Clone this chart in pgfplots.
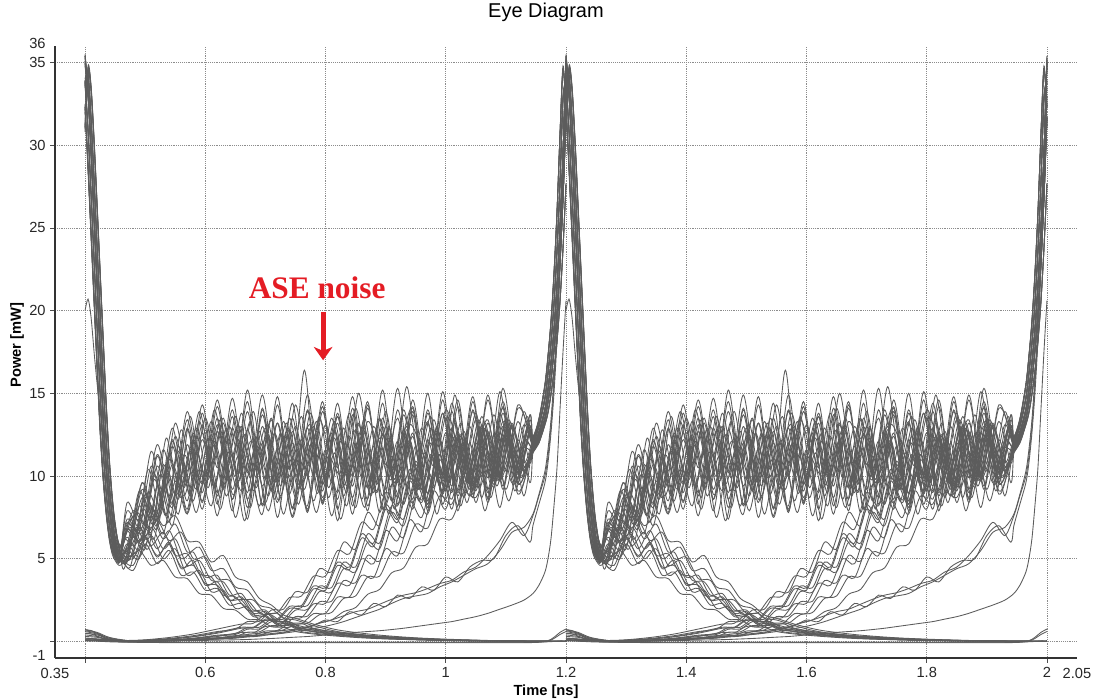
\documentclass[border=0pt]{standalone}
\usepackage{pgfplots}
\pgfplotsset{compat=1.18}
\usepackage{pgfplotstable}
\usepackage{fontspec}
\setmainfont{Liberation Sans}
\newfontfamily\timesfont{Liberation Serif}
\usetikzlibrary{arrows.meta}
\definecolor{trace}{RGB}{92,92,92}
\definecolor{asered}{RGB}{228,28,36}
\pgfplotsset{tr/.style={trace, line width=0.65pt, smooth, no markers}}

% high -> high traces (one bit slot, 0.4 .. 1.2 ns); four time grids for the noisy part
\pgfplotstableread{
xa xb xc xd h1 h2 h3 h4 h5 h6 h7 h8 h9 h10 h11 h12 h13 h14 h15 h16 h17 h18
0.400 0.400 0.400 0.400 32.3 33.8 35.0 33.8 31.0 35.3 33.6 34.0 34.8 32.0 31.2 35.4 33.9 33.6 35.1 30.8 32.5 35.5
0.405 0.405 0.405 0.405 28.7 30.9 33.0 34.2 34.6 33.2 30.7 34.4 32.8 28.4 34.8 33.3 31.0 34.0 33.1 34.4 28.9 33.4
0.410 0.410 0.410 0.410 24.7 27.1 29.5 31.6 33.4 29.7 26.9 31.8 29.3 24.4 33.6 29.8 27.2 31.4 29.6 33.2 24.9 29.9
0.415 0.415 0.415 0.415 20.7 23.1 25.5 27.9 30.2 25.7 22.9 28.1 25.3 20.4 30.4 25.8 23.2 27.7 25.6 30.0 20.9 25.9
0.420 0.420 0.420 0.420 16.7 19.1 21.5 23.9 26.3 21.7 18.9 24.1 21.3 16.4 26.5 21.8 19.2 23.7 21.6 26.1 16.9 21.9
0.425 0.425 0.425 0.425 12.9 15.1 17.5 19.9 22.3 17.7 14.9 20.1 17.3 12.6 22.5 17.8 15.2 19.7 17.6 22.1 13.1 17.9
0.430 0.430 0.430 0.430 10.0 11.7 13.5 15.9 18.3 13.7 11.5 16.1 13.3 9.8 18.5 13.8 11.8 15.7 13.6 18.1 10.2 13.9
0.435 0.435 0.435 0.435 7.9 9.1 10.5 12.3 14.4 10.7 9.0 12.5 10.3 7.7 14.6 10.8 9.2 12.1 10.6 14.2 8.1 10.9
0.440 0.440 0.440 0.440 6.4 7.2 8.2 9.6 11.1 8.4 7.1 9.8 8.0 6.2 11.3 8.5 7.3 9.5 8.3 10.9 6.6 8.6
0.445 0.445 0.445 0.445 5.5 6.0 6.6 7.6 8.7 6.8 5.9 7.8 6.4 5.3 8.9 6.9 6.1 7.5 6.7 8.5 5.7 7.0
0.450 0.450 0.450 0.450 5.1 5.3 5.6 6.2 7.0 5.8 5.2 6.4 5.4 4.9 7.2 5.9 5.4 6.1 5.7 6.8 5.3 6.0
0.458 0.458 0.458 0.458 4.9 4.9 5.0 5.3 5.6 5.2 4.8 5.5 4.8 4.6 5.8 5.3 5.0 5.2 5.1 5.4 5.1 5.3
0.470 0.475 0.480 0.465 7.1 4.9 7.4 4.5 7.9 5.4 6.8 5.1 5.6 5.3 6.9 5.8 6.3 6.0 6.2 4.4 8.4 5.0
0.490 0.495 0.500 0.485 6.8 8.2 6.1 7.7 7.2 8.9 6.5 7.8 5.0 9.1 6.0 9.6 5.6 8.7 5.9 6.9 7.4 8.0
0.510 0.515 0.520 0.505 10.6 6.6 9.8 6.2 11.2 7.3 10.4 6.9 8.0 7.5 10.1 7.4 9.4 7.8 9.0 5.6 11.5 7.1
0.530 0.535 0.540 0.525 8.4 10.7 7.6 10.2 8.8 11.4 8.1 10.1 6.5 11.6 7.7 12.3 7.2 11.0 7.6 9.3 9.0 10.4
0.550 0.555 0.560 0.545 12.4 8.1 11.5 7.7 12.8 8.7 12.1 8.4 9.7 8.9 11.8 8.9 11.1 9.3 10.7 7.0 13.2 8.6
0.570 0.575 0.580 0.565 9.6 11.9 8.8 11.5 10.0 12.6 9.3 11.3 7.7 12.9 8.9 13.6 8.5 12.2 8.8 10.5 10.3 11.6
0.590 0.595 0.600 0.585 13.3 8.9 12.2 8.5 13.5 9.4 12.9 9.2 10.4 9.8 12.6 9.6 12.0 10.1 11.5 7.8 13.9 9.5
0.610 0.615 0.620 0.605 10.1 12.5 9.3 11.9 10.5 13.1 9.8 11.8 8.2 13.3 9.4 14.0 9.0 12.7 9.3 11.0 10.8 12.1
0.630 0.635 0.640 0.625 13.5 9.2 12.4 8.8 13.0 9.9 13.4 8.7 11.6 9.4 12.9 10.7 11.5 9.6 12.8 8.0 13.2 9.8
0.650 0.655 0.660 0.645 9.5 12.7 10.1 11.2 10.6 13.0 9.2 12.9 7.5 13.6 9.7 13.1 9.1 13.8 8.6 11.3 10.0 12.2
0.670 0.675 0.680 0.665 12.8 8.6 13.3 8.1 13.9 9.1 12.5 9.5 10.8 10.2 12.1 9.9 12.3 10.4 11.8 7.3 15.2 9.1
0.690 0.695 0.700 0.685 10.2 11.8 9.4 12.0 9.8 12.3 9.9 11.9 8.2 12.7 10.8 14.0 8.4 12.9 9.3 10.5 10.7 13.0
0.710 0.715 0.720 0.705 13.4 9.1 12.6 8.6 13.2 9.6 13.1 8.8 11.4 9.5 9.0 10.5 11.7 9.8 12.5 7.9 13.5 9.6
0.730 0.735 0.740 0.725 9.7 12.4 9.9 11.5 10.4 12.8 9.4 12.6 7.7 13.3 12.7 13.2 8.9 13.5 8.8 11.0 10.1 12.4
0.750 0.755 0.760 0.745 13.0 8.7 11.3 8.3 13.6 9.2 12.7 9.4 11.0 10.0 9.5 10.1 12.2 10.3 12.0 7.5 14.3 9.2
0.770 0.775 0.780 0.765 10.0 12.0 13.1 11.9 10.0 12.5 9.8 16.4 8.0 12.9 12.3 13.8 8.5 13.0 9.2 10.6 10.6 12.9
0.790 0.795 0.800 0.785 13.6 9.0 9.5 8.7 13.1 9.8 13.3 9.0 11.5 9.6 9.1 10.6 11.6 9.7 12.7 7.8 13.4 9.5
0.810 0.815 0.820 0.805 9.6 12.6 12.7 11.4 10.5 13.2 9.3 12.2 7.6 13.5 12.8 13.3 9.0 13.6 8.7 11.2 11.0 12.3
0.830 0.835 0.840 0.825 12.9 8.8 10.0 8.2 13.8 9.3 12.6 9.3 10.9 10.1 9.4 10.2 12.4 10.2 12.1 7.4 10.1 9.0
0.850 0.855 0.860 0.845 10.3 11.9 13.2 12.1 9.9 12.4 10.0 10.7 8.1 12.8 12.2 15.0 8.6 12.8 9.4 10.7 14.1 13.1
0.870 0.875 0.880 0.865 13.3 9.3 9.3 8.8 13.0 9.0 13.5 12.6 11.7 9.3 8.9 10.8 11.8 9.5 12.9 8.1 10.7 9.7
0.890 0.895 0.900 0.885 11.5 12.3 12.5 11.7 10.7 13.0 9.5 9.1 7.8 13.4 12.6 13.0 9.2 13.9 9.0 11.1 13.5 12.5
0.910 0.915 0.920 0.905 9.8 8.5 9.8 8.0 13.5 9.6 12.9 13.0 11.2 9.9 9.6 10.4 12.1 10.1 12.3 7.7 10.2 9.3
0.930 0.935 0.940 0.925 13.7 12.8 13.0 12.2 10.1 12.2 9.9 9.5 8.3 12.6 12.0 15.4 8.8 13.1 9.5 10.4 14.0 12.8
0.950 0.955 0.960 0.945 10.4 9.0 9.2 8.5 12.9 9.2 13.7 12.4 11.8 9.5 9.2 10.9 11.4 11.6 12.6 8.0 10.6 9.8
0.970 0.975 0.980 0.965 13.2 12.2 12.4 11.3 10.6 13.4 9.2 8.9 7.9 13.8 12.9 13.6 9.3 9.9 8.9 11.4 13.3 12.0
0.990 0.995 1.000 0.985 9.5 9.4 10.1 8.9 14.0 9.9 12.7 12.9 11.3 10.2 9.7 10.0 12.6 13.5 13.0 7.7 9.9 9.1
1.010 1.015 1.020 1.005 13.9 12.5 13.4 12.0 11.8 12.7 9.7 9.6 8.0 12.9 12.4 14.9 9.0 10.5 9.6 10.9 14.4 13.2
1.030 1.035 1.040 1.025 10.1 8.7 9.6 8.4 10.3 9.5 13.2 12.5 11.9 9.7 9.0 10.6 12.0 13.0 12.4 8.2 10.5 9.6
1.050 1.055 1.060 1.045 13.4 12.0 12.8 11.6 13.6 13.1 9.4 9.2 8.4 11.4 13.0 13.4 8.7 10.0 9.1 11.5 13.8 12.7
1.070 1.075 1.080 1.065 9.9 9.2 9.9 8.7 10.8 9.7 12.8 13.2 11.5 13.4 9.5 10.9 12.5 13.7 12.9 7.9 10.2 9.9
1.090 1.095 1.100 1.085 13.8 12.6 13.3 12.3 13.2 12.5 10.1 9.8 8.1 9.9 12.5 14.1 9.2 10.3 9.4 11.0 15.1 13.0
1.110 1.115 1.120 1.105 10.5 9.6 10.4 9.1 10.2 10.1 13.4 12.8 12.0 13.0 9.9 10.5 12.2 13.3 12.6 8.5 10.9 9.5
1.130 1.135 1.140 1.125 13.1 12.2 12.9 11.9 13.7 12.9 10.4 10.0 8.8 10.3 12.9 13.6 9.6 10.8 9.9 11.6 13.9 12.6
1.145 1.145 1.145 1.145 11.8 11.6 12.0 11.5 11.9 12.3 11.7 11.8 12.1 11.6 12.4 11.7 11.4 12.0 11.9 11.5 11.8 12.2
1.155 1.155 1.155 1.155 12.6 12.3 13.0 12.1 12.7 13.4 12.4 12.6 13.1 12.3 13.5 12.5 12.0 13.0 12.7 12.2 12.6 13.3
1.165 1.165 1.165 1.165 14.0 13.5 14.7 13.2 14.1 15.5 13.6 14.0 14.8 13.5 15.6 13.9 13.1 14.7 14.1 13.4 14.0 15.4
1.170 1.170 1.170 1.170 15.2 14.5 16.2 13.9 15.3 17.2 14.6 15.2 16.3 14.5 17.3 15.1 13.8 16.2 15.3 14.4 15.2 17.1
1.175 1.175 1.175 1.175 16.8 15.8 18.0 15.0 16.9 19.3 15.9 16.8 18.1 15.8 19.4 16.7 14.9 18.0 16.9 15.7 16.8 19.2
1.180 1.180 1.180 1.180 18.8 17.6 20.4 16.4 18.9 22.2 17.7 18.8 20.5 17.6 22.3 18.7 16.3 20.4 18.9 17.5 18.8 22.1
1.185 1.185 1.185 1.185 21.5 19.9 23.6 18.2 21.6 25.9 20.0 21.5 23.7 19.9 26.0 21.4 18.1 23.6 21.6 19.8 21.5 25.8
1.190 1.190 1.190 1.190 25.0 22.9 27.7 20.6 25.1 30.6 23.0 25.0 27.8 22.9 30.7 24.9 20.5 27.7 25.1 22.8 25.0 30.5
1.195 1.195 1.195 1.195 29.5 26.8 32.8 23.8 29.6 34.6 26.9 29.5 32.9 26.8 34.8 29.4 23.7 32.8 29.6 26.7 29.5 34.5
1.200 1.200 1.200 1.200 35.0 31.7 33.8 27.7 35.2 32.3 31.8 35.3 33.9 31.6 32.4 34.8 27.6 33.7 35.1 31.5 35.4 32.2
}\tblH

% high -> high traces with larger, slower excursions
\pgfplotstableread{
x g1 g2 g3 g4 g5 g6
0.400 35.0 33.8 33.8 31.0 35.4 32.3
0.405 33.0 34.2 30.9 34.6 33.3 28.7
0.410 29.5 31.6 27.1 33.4 29.8 24.7
0.415 25.5 27.9 23.1 30.2 25.7 20.7
0.420 21.5 23.9 19.1 26.3 21.7 16.7
0.425 17.5 19.9 15.1 22.3 17.6 12.9
0.430 13.5 15.9 11.7 18.3 13.6 10.0
0.435 10.5 12.3 9.1 14.4 10.6 7.9
0.440 8.2 9.6 7.2 11.1 8.3 6.4
0.445 6.6 7.6 6.0 8.7 6.7 5.5
0.450 5.6 6.2 5.3 7.0 5.7 5.1
0.458 5.0 5.3 4.9 5.6 5.1 4.9
0.470 7.4 5.0 6.8 4.8 7.9 5.3
0.495 6.6 9.2 6.2 8.7 6.9 9.6
0.520 11.3 7.0 10.6 6.8 11.9 7.4
0.545 8.1 12.2 7.6 11.8 8.3 12.9
0.570 13.4 8.0 12.8 7.8 13.9 8.5
0.595 8.4 13.8 8.0 13.1 9.0 14.3
0.620 14.2 8.3 13.5 7.6 14.6 8.8
0.645 8.6 14.0 7.9 13.6 8.9 14.7
0.670 14.5 8.1 13.9 7.4 11.2 9.0
0.695 8.3 13.7 8.2 14.1 7.7 14.9
0.720 14.8 8.4 13.2 7.5 14.3 8.6
0.745 8.0 14.4 7.6 13.5 8.1 11.1
0.770 13.9 7.9 14.0 7.8 14.9 8.2
0.795 8.5 13.9 8.3 14.2 8.4 14.5
0.820 14.4 8.6 13.6 7.3 13.8 8.0
0.845 8.2 14.8 7.7 13.7 8.7 14.1
0.870 14.1 8.2 14.3 7.9 14.5 8.6
0.895 8.8 13.5 8.1 14.4 8.0 15.2
0.920 15.3 8.7 11.0 7.6 14.0 8.3
0.945 8.4 14.2 14.1 13.9 8.6 14.6
0.970 14.0 8.3 8.5 8.1 15.0 8.9
0.995 9.0 15.1 13.8 14.6 8.3 13.8
1.020 14.6 8.8 8.2 7.9 14.2 9.1
1.045 8.7 13.9 14.5 14.0 8.9 14.8
1.070 14.9 9.0 8.6 8.4 14.6 8.7
1.095 9.2 14.5 14.2 13.8 9.4 15.3
1.120 14.3 9.5 9.1 8.9 14.1 9.6
1.145 11.8 12.0 11.6 11.8 12.3 11.6
1.155 12.6 13.0 12.3 12.6 13.4 12.3
1.165 14.0 14.7 13.5 14.0 15.5 13.5
1.170 15.2 16.2 14.5 15.2 17.2 14.5
1.175 16.8 18.0 15.8 16.8 19.3 15.8
1.180 18.8 20.4 17.6 18.8 22.2 17.6
1.185 21.5 23.6 19.9 21.5 25.9 19.9
1.190 25.0 27.7 22.9 25.0 30.6 22.9
1.195 29.5 32.8 26.8 29.5 34.6 26.8
1.200 35.0 33.8 31.7 35.0 32.3 31.7
}\tblHg

% high -> low traces
\pgfplotstableread{
xa xb u1 u2 u3 u4 u5 u6 u7 u8 u9 u10 u11
0.400 0.400 32.2 35.1 33.7 33.9 31.1 35.4 33.7 20.0 34.9 33.9 32.4
0.405 0.405 28.6 33.1 34.3 31.0 34.7 33.3 30.8 20.7 32.9 34.1 28.8
0.410 0.410 24.6 29.6 31.7 27.2 33.5 29.8 27.0 19.6 29.4 31.5 24.8
0.415 0.415 20.6 25.6 28.0 23.2 30.3 25.8 23.0 17.5 25.4 27.8 20.8
0.420 0.420 16.6 21.6 24.0 19.2 26.4 21.8 19.0 15.6 21.4 23.8 16.8
0.425 0.425 12.8 17.6 20.0 15.2 22.4 17.8 15.0 14.0 17.4 19.8 13.0
0.430 0.430 9.9 13.6 16.0 11.8 18.4 13.8 11.6 12.3 13.4 15.8 10.1
0.435 0.435 7.8 10.6 12.4 9.2 14.5 10.8 9.0 10.6 10.4 12.2 8.0
0.440 0.440 6.3 8.3 9.7 7.3 11.2 8.4 7.1 9.0 8.1 9.5 6.5
0.445 0.445 5.4 6.7 7.7 6.1 8.8 6.8 5.9 7.8 6.5 7.5 5.6
0.450 0.450 5.0 5.7 6.3 5.4 7.1 5.8 5.2 6.8 5.5 6.1 5.2
0.458 0.458 4.8 5.1 5.4 5.0 5.7 5.4 4.9 5.8 5.0 5.3 4.9
0.470 0.480 6.8 4.6 6.3 4.3 7.2 5.0 5.9 5.1 5.6 7.6 4.9
0.490 0.500 6.0 6.3 5.5 5.9 6.6 6.8 5.1 6.2 6.9 6.4 5.5
0.510 0.520 7.6 5.1 6.9 4.7 8.1 5.6 6.4 5.2 5.8 7.3 4.6
0.530 0.540 6.2 6.0 5.6 5.5 7.0 6.7 5.0 5.9 6.6 6.1 4.9
0.550 0.560 7.1 4.4 6.2 4.0 7.6 5.0 5.6 4.5 5.2 6.6 3.9
0.570 0.580 5.4 4.9 4.6 4.2 6.1 5.4 4.0 4.6 5.3 5.0 3.8
0.590 0.600 5.7 3.4 4.9 3.1 6.0 3.9 4.3 3.5 4.1 5.1 2.9
0.610 0.620 4.3 3.6 3.7 3.2 4.8 4.0 3.0 3.4 3.9 3.8 2.8
0.630 0.640 4.4 2.5 3.6 2.2 5.2 2.8 3.1 2.5 2.8 3.7 2.0
0.650 0.660 3.3 2.7 2.6 2.3 3.9 2.9 2.0 2.5 2.7 2.6 1.9
0.670 0.680 3.1 1.7 2.5 1.5 3.6 1.9 2.1 1.6 1.9 2.5 1.35
0.690 0.700 2.2 1.8 1.7 1.5 2.6 1.9 1.3 1.6 1.8 1.7 1.3
0.710 0.720 2.0 1.1 1.6 1.0 2.2 1.2 1.3 1.0 1.25 1.7 0.9
0.730 0.740 1.4 1.1 1.1 0.95 1.6 1.2 0.85 1.0 1.2 1.15 0.85
0.750 0.760 1.3 0.7 1.0 0.6 1.4 0.8 0.9 0.7 0.85 1.1 0.6
0.780 0.780 0.95 0.62 0.75 0.5 1.05 0.68 0.58 0.6 0.7 0.8 0.45
0.820 0.820 0.6 0.42 0.55 0.36 0.7 0.45 0.4 0.44 0.5 0.55 0.32
0.860 0.860 0.42 0.3 0.38 0.25 0.5 0.33 0.28 0.3 0.36 0.4 0.22
0.900 0.900 0.3 0.2 0.27 0.17 0.35 0.22 0.2 0.21 0.25 0.28 0.15
0.950 0.950 0.2 0.12 0.17 0.1 0.22 0.14 0.12 0.13 0.16 0.18 0.1
1.000 1.000 0.12 0.07 0.1 0.06 0.14 0.08 0.07 0.08 0.1 0.11 0.06
1.060 1.060 0.06 0.04 0.05 0.03 0.07 0.04 0.04 0.04 0.05 0.06 0.03
1.120 1.120 0.03 0.02 0.02 0.02 0.03 0.02 0.02 0.02 0.03 0.03 0.02
1.160 1.160 0.02 0.01 0.01 0.01 0.02 0.01 0.01 0.01 0.02 0.02 0.01
1.200 1.200 0 0 0 0 0 0 0 0 0 0 0
}\tblHL

% low -> high traces
\pgfplotstableread{
xa xb v1 v2 v3 v4 v5 v6 v7 v8 v9 v10 v11 v12 v13 v14 v15
0.400 0.400 0.3 0.65 0.2 0.7 0.1 0.5 0.2 0.6 0.1 0.05 0.4 0.05 0.1 0.15 0.05
0.420 0.420 0.25 0.5 0.15 0.55 0.08 0.4 0.15 0.45 0.08 0.04 0.3 0.04 0.08 0.12 0.04
0.440 0.440 0.1 0.2 0.08 0.25 0.05 0.15 0.08 0.2 0.04 0.03 0.12 0.03 0.04 0.08 0.03
0.470 0.470 0.05 0.05 0.03 0.06 0.02 0.04 0.03 0.05 0.02 0.02 0.03 0.02 0.02 0.06 0.02
0.500 0.500 0.08 0.06 0.04 0.03 0.02 0.07 0.04 0.02 0.02 0.03 0.02 0.02 0.02 0.1 0.02
0.540 0.540 0.18 0.14 0.1 0.07 0.05 0.15 0.09 0.04 0.05 0.06 0.04 0.03 0.04 0.24 0.04
0.580 0.580 0.35 0.28 0.2 0.16 0.12 0.3 0.18 0.1 0.12 0.12 0.09 0.05 0.08 0.45 0.09
0.620 0.620 0.6 0.5 0.38 0.3 0.22 0.55 0.34 0.2 0.22 0.2 0.16 0.08 0.14 0.75 0.16
0.650 0.660 0.75 0.8 0.48 0.55 0.3 0.86 0.42 0.38 0.35 0.3 0.25 0.1 0.2 1.05 0.22
0.670 0.680 1.2 0.82 0.85 0.52 0.56 0.86 0.74 0.36 0.42 0.36 0.3 0.12 0.27 1.1 0.34
0.690 0.700 1.22 1.27 0.86 0.91 0.58 1.35 0.76 0.63 0.5 0.44 0.36 0.15 0.32 1.65 0.38
0.710 0.720 1.9 1.28 1.35 0.9 0.96 1.36 1.2 0.67 0.58 0.52 0.42 0.18 0.44 1.75 0.6
0.730 0.740 1.95 2.0 1.35 1.43 0.96 2.12 1.22 1.06 0.66 0.62 0.5 0.22 0.52 2.65 0.7
0.750 0.760 3.0 2.05 2.12 1.44 1.5 2.17 1.9 1.08 0.75 0.75 0.6 0.26 0.74 2.75 1.03
0.770 0.780 2.98 3.18 2.17 2.27 1.53 3.35 1.94 1.68 0.9 0.95 0.72 0.3 0.86 3.95 1.1
0.790 0.800 4.4 3.1 3.35 2.3 2.4 3.25 3.02 1.71 1.1 1.3 0.85 0.36 1.13 3.95 1.62
0.810 0.820 4.2 4.6 3.25 3.52 2.43 4.8 2.98 2.68 1.3 1.2 1.0 0.42 1.3 5.5 1.75
0.830 0.840 6.0 4.35 4.8 3.4 3.68 4.5 4.4 2.7 1.55 1.8 1.2 0.48 1.8 5.3 2.6
0.850 0.860 5.6 6.25 4.5 5.0 3.55 6.5 4.2 4.0 1.8 1.6 1.45 0.55 2.05 7.2 2.75
0.870 0.880 7.8 5.75 6.5 4.7 5.2 5.95 6.0 3.85 1.95 2.3 1.7 0.6 2.85 6.8 3.9
0.890 0.900 7.0 8.0 5.95 6.7 4.85 8.25 5.6 5.6 2.25 2.1 1.95 0.65 3.15 9.0 3.95
0.910 0.920 9.5 7.2 8.2 6.1 6.9 7.4 7.8 5.2 2.55 2.8 2.3 0.72 4.15 8.2 5.4
0.930 0.940 8.3 9.7 7.4 8.45 6.3 9.9 7.0 7.35 2.8 2.6 2.6 0.8 4.45 10.4 5.35
0.950 0.960 10.9 8.4 9.9 7.5 8.7 8.55 9.5 6.65 2.95 3.3 2.75 0.9 5.7 9.2 7.1
0.970 0.980 9.0 11.1 8.5 10.1 7.7 11.3 8.3 9.1 3.2 3.1 2.9 1.0 5.9 11.6 6.85
0.990 1.000 12.2 9.1 11.3 8.6 10.3 9.2 11.0 8.0 3.5 3.9 3.3 1.1 7.4 9.8 8.8
1.010 1.020 9.4 12.2 9.1 11.4 8.6 12.3 9.0 10.6 3.7 3.6 3.6 1.2 7.4 12.4 8.3
1.030 1.040 12.7 9.5 12.2 9.2 11.6 9.5 12.0 8.8 4.2 4.5 4.0 1.35 9.0 9.9 10.2
1.050 1.060 9.8 12.9 9.6 12.3 9.1 13.0 9.4 11.6 4.5 4.9 4.4 1.5 8.7 12.8 9.3
1.070 1.080 13.2 9.9 12.6 9.5 12.4 10.0 12.7 9.3 5.2 5.0 4.7 1.7 10.4 10.1 11.2
1.090 1.100 10.2 13.5 10.1 12.8 9.7 12.6 10.0 12.3 6.1 6.4 5.5 1.95 9.7 13.1 9.9
1.110 1.120 13.0 10.5 13.1 9.9 13.2 10.4 12.9 9.6 7.2 7.0 6.6 2.2 11.3 9.8 11.8
1.130 1.140 10.8 13.4 10.6 13.0 10.2 13.7 10.5 12.8 6.4 6.0 6.9 2.5 10.3 12.7 10.4
1.145 1.145 12.3 11.8 11.6 12.0 11.5 11.9 12.1 11.6 7.6 7.0 7.7 2.9 11.7 12.0 11.4
1.155 1.155 13.4 12.6 12.3 13.0 12.1 12.7 13.1 12.2 8.8 8.3 8.9 3.4 12.5 13.0 12.0
1.165 1.165 15.5 14.0 13.5 14.7 13.2 14.1 14.8 13.4 10.0 9.6 10.3 4.2 13.9 14.6 13.1
1.170 1.170 17.2 15.2 14.5 16.2 13.9 15.3 16.3 14.4 11.2 10.8 11.6 5.0 15.1 16.1 13.8
1.175 1.175 19.3 16.8 15.8 18.0 15.0 16.9 18.1 15.7 13.0 12.6 13.4 6.2 16.7 17.9 14.9
1.180 1.180 22.2 18.8 17.6 20.4 16.4 18.9 20.5 17.5 15.5 15.0 16.0 8.2 18.7 20.3 16.3
1.185 1.185 25.9 21.5 19.9 23.6 18.2 21.6 23.7 19.8 18.8 18.2 19.4 10.5 21.4 23.5 18.1
1.190 1.190 30.6 25.0 22.9 27.7 20.6 25.1 27.8 22.8 23.0 22.4 23.6 14.0 24.9 27.6 20.5
1.195 1.195 34.6 29.5 26.8 32.8 23.8 29.6 32.9 26.7 28.0 27.3 28.6 17.5 29.4 32.7 23.7
1.200 1.200 32.3 35.0 31.7 33.8 27.7 35.1 33.9 31.6 33.5 33.0 34.0 20.6 34.8 33.7 27.6
}\tblLH

% low -> low traces
\pgfplotstableread{
x w1 w2 w3
0.40 0.72 0.5 0.05
0.41 0.66 0.45 0.04
0.42 0.5 0.33 0.02
0.43 0.28 0.18 0.0
0.44 0.1 0.05 -0.02
0.46 0.0 -0.02 -0.04
0.50 -0.03 -0.06 -0.05
0.60 -0.05 -0.08 -0.05
0.70 -0.05 -0.08 -0.05
0.80 -0.05 -0.08 -0.05
0.90 -0.05 -0.08 -0.05
1.00 -0.05 -0.08 -0.05
1.10 -0.05 -0.08 -0.05
1.15 -0.03 -0.06 -0.04
1.17 0.05 0.02 -0.02
1.18 0.25 0.18 0.0
1.19 0.55 0.42 0.03
1.20 0.75 0.6 0.05
}\tblLL

\newcommand\twoslots[3]{% table, x column, y column
  \addplot[tr] table[x=#2, y=#3] {#1};
  \addplot[tr] table[x expr=\thisrow{#2}+0.8, y=#3] {#1};
}

\begin{document}
\begin{tikzpicture}
\begin{axis}[
  at={(41.25pt,31.5pt)}, anchor=south west,
  scale only axis, width=766.5pt, height=459pt,
  xmin=0.35, xmax=2.05, ymin=-1, ymax=36,
  axis x line=bottom, axis y line=left,
  axis line style={-, black!80, line width=0.8pt},
  xtick={0.4,0.6,0.8,1,1.2,1.4,1.6,1.8,2},
  xticklabels={{},0.6,0.8,1,1.2,1.4,1.6,1.8,2},
  extra x ticks={0.35,2.05}, extra x tick labels={0.35,2.05},
  extra x tick style={grid=none, major tick length=0pt, tick label style={yshift=-4pt}},
  ytick={0,5,10,15,20,25,30,35},
  yticklabels={{},5,10,15,20,25,30,35},
  extra y ticks={-1,36}, extra y tick labels={-1,36},
  extra y tick style={grid=none, major tick length=0pt, tick label style={xshift=-3.5pt, yshift=2pt}},
  grid=major,
  major grid style={densely dotted, black!45, line width=0.5pt},
  tick align=outside, major tick length=3.5pt,
  tick style={black!70, line width=0.6pt},
  ticklabel style={font=\fontsize{11}{13}\selectfont, text=black!85},
  /pgf/number format/assume math mode=true,
]
\pgfplotsinvokeforeach{1,2,9,10,17}{\twoslots{\tblH}{xa}{h#1}}
\pgfplotsinvokeforeach{3,4,11,12,18}{\twoslots{\tblH}{xb}{h#1}}
\pgfplotsinvokeforeach{5,6,13,14}{\twoslots{\tblH}{xc}{h#1}}
\pgfplotsinvokeforeach{7,8,15,16}{\twoslots{\tblH}{xd}{h#1}}
\pgfplotsinvokeforeach{1,...,6}{\twoslots{\tblHg}{x}{g#1}}
\pgfplotsinvokeforeach{1,3,5,7,9,11}{\twoslots{\tblHL}{xa}{u#1}}
\pgfplotsinvokeforeach{2,4,6,8,10}{\twoslots{\tblHL}{xb}{u#1}}
\pgfplotsinvokeforeach{1,3,5,7,9,11,12,13,15}{\twoslots{\tblLH}{xa}{v#1}}
\pgfplotsinvokeforeach{2,4,6,8,10,14}{\twoslots{\tblLH}{xb}{v#1}}
\pgfplotsinvokeforeach{1,2,3}{\twoslots{\tblLL}{x}{w#1}}
\node[font=\timesfont\bfseries\fontsize{23.5}{26}\selectfont, text=asered]
  at (axis cs:0.786,21.4) {ASE noise};
\draw[asered, line width=3.6pt, -{Stealth[width=14pt,length=10pt,inset=3pt]}]
  (axis cs:0.796,19.9) -- (axis cs:0.796,17.0);
\end{axis}
\node[font=\fontsize{15}{17}\selectfont] at (409.5pt,516pt) {Eye Diagram};
\node[font=\bfseries\fontsize{11}{13}\selectfont] at (409.5pt,6.5pt) {Time [ns]};
\node[font=\bfseries\fontsize{11}{13}\selectfont, rotate=90] at (12.75pt,266pt) {Power [mW]};
\pgfresetboundingbox
\path[use as bounding box] (0,0) rectangle (819.75pt,525pt);
\end{tikzpicture}
\end{document}
